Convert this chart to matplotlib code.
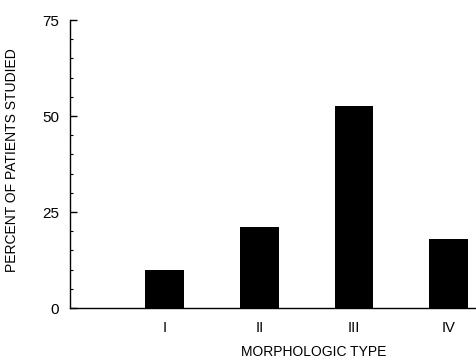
import matplotlib.pyplot as plt
from matplotlib.ticker import MultipleLocator

# data
types = ["I", "II", "III", "IV"]
percent = [10, 21, 52.5, 18]

plt.rcParams['font.family'] = ['Liberation Sans', 'DejaVu Sans']

fig = plt.figure(figsize=(4.76, 3.59), dpi=100)
ax = fig.add_axes([0.147, 0.142, 0.853, 0.802])

pos = list(range(1, len(types) + 1))
ax.bar(pos, percent, width=0.41, color="black")

ax.set_xlim(0, 4.29)
ax.set_ylim(0, 75)
ax.set_xticks(pos)
ax.set_xticklabels(types, fontsize=10.5)
ax.tick_params(axis="x", length=0, pad=9)

ax.yaxis.set_major_locator(MultipleLocator(25))
ax.yaxis.set_minor_locator(MultipleLocator(5))
ax.tick_params(axis="y", which="major", direction="in", length=5, width=1, labelsize=11, pad=8)
ax.tick_params(axis="y", which="minor", direction="in", length=2.5, width=0.8)

for s in ["top", "right"]:
    ax.spines[s].set_visible(False)
ax.spines["left"].set_linewidth(1)
ax.spines["bottom"].set_linewidth(1)

ax.set_ylabel("PERCENT OF PATIENTS STUDIED", fontsize=10)
ax.yaxis.set_label_coords(-0.125, 0.515)
ax.set_xlabel("MORPHOLOGIC TYPE", fontsize=10)
ax.xaxis.set_label_coords(0.6, -0.128)

fig.savefig("out.png", dpi=100)
